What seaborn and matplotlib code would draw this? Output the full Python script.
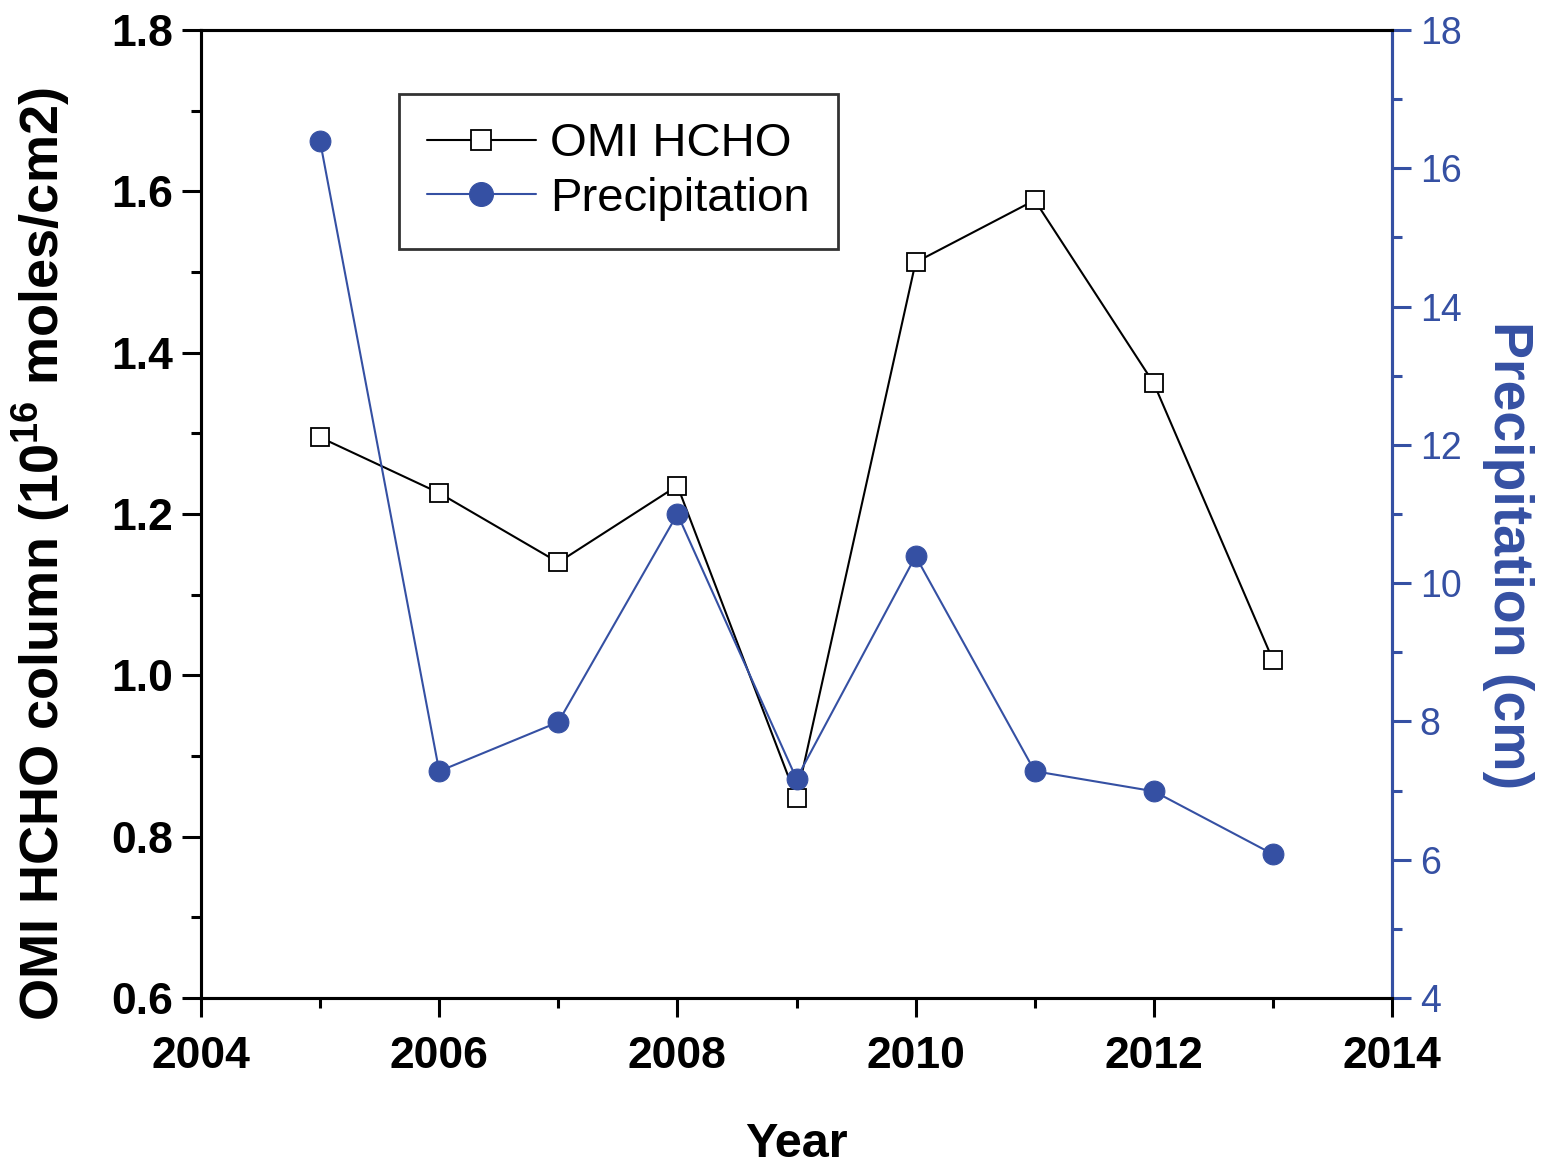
import matplotlib
matplotlib.use("Agg")
import matplotlib.pyplot as plt
import seaborn as sns
import pandas as pd
from matplotlib.ticker import MultipleLocator

# data
years = [2005, 2006, 2007, 2008, 2009, 2010, 2011, 2012, 2013]
hcho = [1.295, 1.226, 1.140, 1.235, 0.848, 1.512, 1.589, 1.362, 1.019]
precip = [16.39, 7.28, 7.99, 11.0, 7.17, 10.39, 7.28, 6.99, 6.08]

blue = "#3550a3"

sns.set_style("ticks", {"axes.edgecolor": "black", "text.color": "black",
                        "xtick.color": "black", "ytick.color": "black",
                        "axes.labelcolor": "black"})
plt.rcParams["font.family"] = ["Liberation Sans", "DejaVu Sans"]
plt.rcParams["mathtext.fontset"] = "custom"
plt.rcParams["mathtext.bf"] = "Liberation Sans:bold"
plt.rcParams["mathtext.rm"] = "Liberation Sans"

df = pd.DataFrame({"year": years, "hcho": hcho, "precip": precip})

fig = plt.figure(figsize=(15.43, 11.65), dpi=100)
ax = fig.add_axes([201 / 1543, 1 - 998 / 1165, (1392 - 201) / 1543, (998 - 30) / 1165])
ax2 = ax.twinx()

sns.lineplot(data=df, x="year", y="hcho", ax=ax, color="black", lw=1.5,
             marker="s", markersize=13, markerfacecolor="white",
             markeredgecolor="black", markeredgewidth=1.3, label="OMI HCHO", legend=False)
sns.lineplot(data=df, x="year", y="precip", ax=ax2, color=blue, lw=1.5,
             marker="o", markersize=15, markerfacecolor=blue,
             markeredgecolor=blue, label="Precipitation", legend=False)

ax.set_xlim(2004, 2014)
ax.set_ylim(0.6, 1.8)
ax2.set_ylim(4, 18)

ax.xaxis.set_major_locator(MultipleLocator(2))
ax.xaxis.set_minor_locator(MultipleLocator(1))
ax.yaxis.set_major_locator(MultipleLocator(0.2))
ax.yaxis.set_minor_locator(MultipleLocator(0.1))
ax2.yaxis.set_major_locator(MultipleLocator(2))
ax2.yaxis.set_minor_locator(MultipleLocator(1))
ax.set_yticklabels([f"{v:.1f}" for v in ax.get_yticks()])

for a in (ax, ax2):
    for s in a.spines.values():
        s.set_linewidth(2.2)
        s.set_visible(True)
        s.set_color("black")
ax2.spines["right"].set_color(blue)

ax.tick_params(axis="both", which="major", direction="out", length=14, width=2.2,
               labelsize=32, pad=6, colors="black")
ax.tick_params(axis="x", pad=13)
ax.tick_params(axis="both", which="minor", direction="out", length=7, width=2.2)
ax.tick_params(axis="y", right=False)
for lab in ax.get_xticklabels() + ax.get_yticklabels():
    lab.set_fontweight("bold")

ax2.tick_params(axis="y", which="major", direction="out", length=14, width=2.2,
                labelsize=27, colors=blue, pad=6)
ax2.tick_params(axis="y", which="minor", direction="out", length=7, width=2.2, colors=blue)

ax.set_xlabel("Year", fontsize=35, fontweight="bold")
ax.xaxis.set_label_coords(0.5, -0.128)
ax.set_ylabel("OMI HCHO column (10$^{\\mathbf{16}}$ moles/cm2)", fontsize=39,
              fontweight="bold")
ax.yaxis.set_label_coords(-0.108, 0.458)
ax2.set_ylabel("Precipitation (cm)", fontsize=40, fontweight="bold", color=blue,
               rotation=-90, va="center")
ax2.yaxis.set_label_coords(1.097, 0.458)

h1, l1 = ax.get_legend_handles_labels()
h2, l2 = ax2.get_legend_handles_labels()
leg = ax.legend(h1 + h2, l1 + l2, loc="upper left", bbox_to_anchor=(0.166, 0.934),
                borderaxespad=0, fontsize=34, frameon=True, fancybox=False,
                edgecolor="black", handlelength=2.3, handletextpad=0.3,
                borderpad=0.6, labelspacing=0.22, markerscale=1.15)
leg.get_frame().set_linewidth(2)

fig.savefig("out.png", dpi=100)
